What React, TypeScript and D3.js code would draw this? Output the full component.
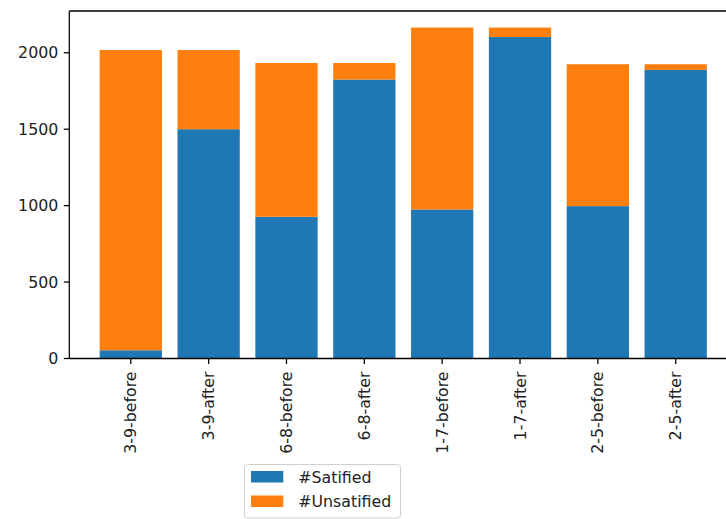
import React from "react";
import * as d3 from "d3";

const categories = ["3-9-before", "3-9-after", "6-8-before", "6-8-after", "1-7-before", "1-7-after", "2-5-before", "2-5-after"];
const satisfied = [54, 1500, 927, 1825, 975, 2103, 997, 1888];
const unsatisfied = [1964, 518, 1006, 108, 1190, 62, 928, 37];
const yTicks = [0, 500, 1000, 1500, 2000];
const seriesNames = ["#Satified", "#Unsatified"];
const colors = ["#1f77b4", "#ff7f0e"];

const W = 726;
const H = 519;
const left = 69.3;
const right = 737.2;
const top = 11;
const bottom = 358.5;
const FONT = "'DejaVu Sans', sans-serif";
const FS = 15.8;

export default function App() {
  const x = d3.scaleBand<string>().domain(categories).range([left, right]).paddingInner(0.2).paddingOuter(0.39);
  const totals = categories.map((_, i) => satisfied[i] + unsatisfied[i]);
  const yMax = (d3.max(totals) as number) * 1.05;
  const y = d3.scaleLinear().domain([0, yMax]).range([bottom, top]);

  const rows = categories.map((c, i) => ({ cat: c, s: satisfied[i], u: unsatisfied[i] }));
  const stack = d3.stack<any>().keys(["s", "u"])(rows);

  return (
    <svg width={W} height={H} style={{ position: "fixed", left: 0, top: 0, display: "block" }} fontFamily={FONT}>
      <rect x={0} y={0} width={W} height={H} fill="white" />
      {stack.map((layer, li) =>
        layer.map((d, i) => (
          <rect
            key={`${li}-${i}`}
            x={x(categories[i])}
            width={x.bandwidth()}
            y={y(d[1])}
            height={y(d[0]) - y(d[1])}
            fill={colors[li]}
          />
        ))
      )}
      <g stroke="black" strokeWidth={1.26} fill="none">
        <line x1={left} x2={left} y1={top} y2={bottom} />
        <line x1={left} x2={right} y1={bottom} y2={bottom} />
        <line x1={left} x2={right} y1={top} y2={top} />
        <line x1={right} x2={right} y1={top} y2={bottom} />
      </g>
      {yTicks.map((t) => (
        <g key={t}>
          <line x1={left - 5.5} x2={left} y1={y(t)} y2={y(t)} stroke="black" strokeWidth={1.26} />
          <text x={left - 11} y={y(t)} dy="0.35em" textAnchor="end" fontSize={FS} fill="#222">
            {t}
          </text>
        </g>
      ))}
      {categories.map((c) => {
        const cx = (x(c) as number) + x.bandwidth() / 2;
        return (
          <g key={c}>
            <line x1={cx} x2={cx} y1={bottom} y2={bottom + 5.5} stroke="black" strokeWidth={1.26} />
            <text
              transform={`translate(${cx},${bottom + 13}) rotate(-90)`}
              textAnchor="end"
              dy="0.35em"
              fontSize={FS}
              fill="#222"
            >
              {c}
            </text>
          </g>
        );
      })}
      <g>
        <rect x={244.5} y={464.5} width={156} height={53.5} rx={3} fill="white" stroke="#d0d0d0" strokeWidth={1} />
        {seriesNames.map((n, i) => (
          <g key={n}>
            <rect x={251} y={471 + i * 24.5} width={32.3} height={11.5} fill={colors[i]} />
            <text x={298.3} y={477 + i * 24.5} dy="0.35em" fontSize={FS} fill="#222">
              {n}
            </text>
          </g>
        ))}
      </g>
    </svg>
  );
}
